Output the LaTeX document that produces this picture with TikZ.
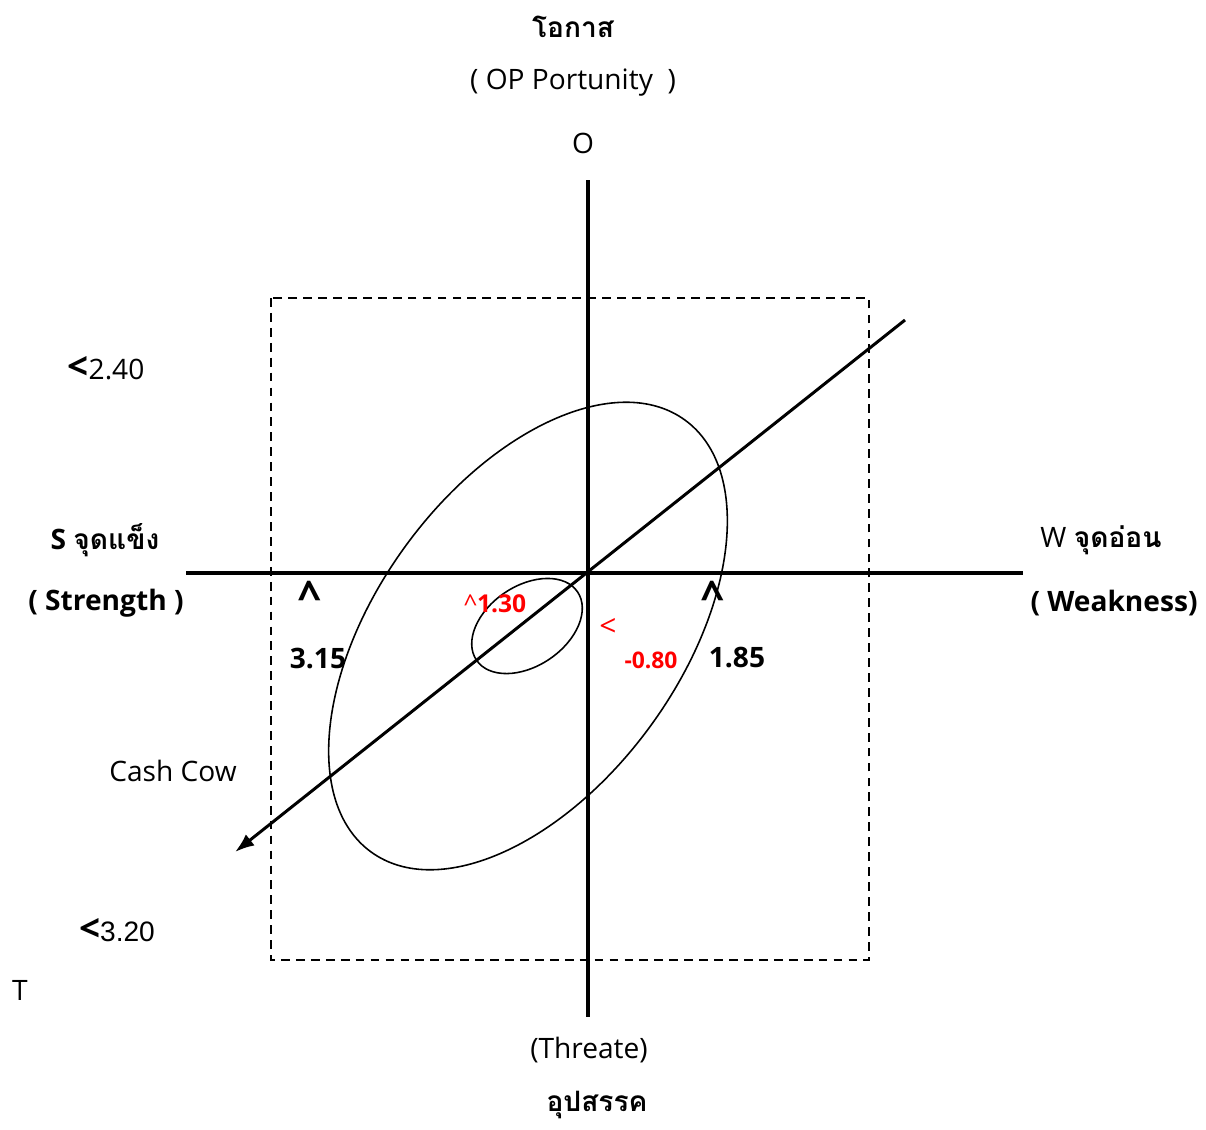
\documentclass[tikz,border=0pt]{standalone}
\usepackage{fontspec}
\setmainfont{Open Sans}
\newfontfamily\thaifont[Script=Thai]{Loma}
\newfontfamily\arialfont{Liberation Sans}
\usetikzlibrary{arrows.meta,positioning}
\definecolor{labelred}{RGB}{255,0,0}
\tikzset{
  lbl/.style={inner sep=0pt, font=\fontsize{16}{19}\selectfont},
  boldlbl/.style={lbl, font=\fontsize{16}{19}\selectfont\bfseries},
  redlbl/.style={inner sep=0pt, text=labelred, font=\fontsize{13}{15}\selectfont\bfseries},
  axis/.style={line width=2.8pt},
  trend/.style={line width=1.7pt, -{Latex[length=11pt, width=8pt]}},
  zone/.style={line width=1pt, dash pattern=on 5pt off 3.5pt},
  orbit/.style={line width=0.9pt}
}
\newcommand{\thaiword}[1]{{\thaifont\fontsize{16}{19}\selectfont #1}}
\newcommand{\bigless}{{\fontsize{21}{21}\selectfont\bfseries <}}
\newcommand{\bigcaret}{{\fontsize{24}{24}\selectfont\bfseries \^{}}}

\begin{document}
\begin{tikzpicture}[x=0.02cm, y=0.02cm]
    \useasboundingbox (0,0) rectangle (1206,-1129);
    % axes
    \coordinate (otop) at (588,-180);
    \coordinate (tbot) at (588,-1017);
    \coordinate (sleft) at (186,-573);
    \coordinate (wright) at (1023,-573);
    \coordinate (ne) at (905,-320);
    \coordinate (sw) at (235,-852);
    \draw[zone] (271,-298) rectangle (869,-960);
    \draw[orbit] (528,-636) ellipse [x radius=5.34cm, y radius=3.04cm, rotate=54];
    \draw[orbit] (527,-626) ellipse [x radius=1.22cm, y radius=0.8cm, rotate=34];
    \draw[axis] (otop) -- (tbot);
    \draw[axis] (sleft) -- (wright);
    \draw[trend] (ne) -- (sw);
    % labels
    \node[boldlbl] (opth) at (573,-27) {\thaiword{\bfseries โอกาส}};
    \node[lbl] (open) at (573,-83) {( OP Portunity~~)};
    \node[lbl] (o) at (583,-143) {O};
    \node[lbl] (top) at (106,-368) {\bigless2.40};
    \node[boldlbl] (sth) at (105,-540) {S \thaiword{\bfseries จุดแข็ง}};
    \node[boldlbl] (sen) at (106,-603) {( Strength )};
    \node[lbl] (wth) at (1101,-540) {W \thaiword{\bfseries จุดอ่อน}};
    \node[boldlbl] (wen) at (1114,-603) {( Weakness)};
    \node[lbl] (capl) at (310,-596) {\bigcaret};
    \node[lbl] (capr) at (713,-596) {\bigcaret};
    \node[boldlbl] (sval) at (318,-658) {3.15};
    \node[boldlbl] (wval) at (737,-658) {1.85};
    \node[redlbl, font=\fontsize{14}{16}\selectfont\bfseries] (oval) at (495,-604) {\mdseries\^{}\bfseries 1.30};
    \node[redlbl, font=\fontsize{17}{19}\selectfont] (lt) at (608,-627) {<};
    \node[redlbl] (tval) at (651,-660) {-0.80};
    \node[lbl] (cow) at (173,-771) {Cash Cow};
    \node[lbl] (bot) at (117,-930) {\bigless{\arialfont 3.20}};
    \node[lbl] (t) at (20,-990) {T};
    \node[lbl] (ten) at (589,-1050) {(Threate)};
    \node[boldlbl] (tth) at (597,-1105) {\thaiword{\bfseries อุปสรรค}};
\end{tikzpicture}
\end{document}
